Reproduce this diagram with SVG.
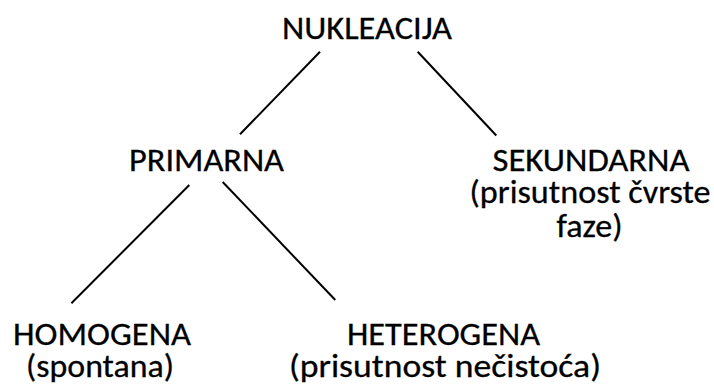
<svg xmlns="http://www.w3.org/2000/svg" width="714" height="388" viewBox="0 0 714 388">
<style>
text{font-family:"Carlito","Open Sans","Liberation Sans",sans-serif;font-size:33px;fill:#000;stroke:#000;stroke-width:0.3}
.c line{stroke:#000;stroke-width:2;stroke-linecap:butt}
</style>
<rect width="714" height="388" fill="#fff"/>
<g class="c" id="connectors">
<line x1="320" y1="51.7" x2="240" y2="134.3"/>
<line x1="417.7" y1="51.7" x2="496.3" y2="135.5"/>
<line x1="189.3" y1="185" x2="71.4" y2="303.3"/>
<line x1="222.7" y1="182" x2="335.3" y2="300"/>
</g>
<g id="nukleacija"><text x="282" y="39.3" textLength="170" lengthAdjust="spacingAndGlyphs">NUKLEACIJA</text></g>
<g id="primarna"><text x="129" y="170.7" textLength="155" lengthAdjust="spacingAndGlyphs">PRIMARNA</text></g>
<g id="sekundarna">
<text x="492.5" y="170.7" textLength="197" lengthAdjust="spacingAndGlyphs">SEKUNDARNA</text>
<text x="469.5" y="203" textLength="241" lengthAdjust="spacingAndGlyphs">(prisutnost čvrste</text>
<text x="556.5" y="236.5" textLength="66" lengthAdjust="spacingAndGlyphs">faze)</text>
</g>
<g id="homogena">
<text x="13" y="345" textLength="178" lengthAdjust="spacingAndGlyphs">HOMOGENA</text>
<text x="26" y="377" textLength="148" lengthAdjust="spacingAndGlyphs">(spontana)</text>
</g>
<g id="heterogena">
<text x="347" y="344.5" textLength="193" lengthAdjust="spacingAndGlyphs">HETEROGENA</text>
<text x="289" y="377" textLength="312" lengthAdjust="spacingAndGlyphs">(prisutnost nečistoća)</text>
</g>
</svg>
